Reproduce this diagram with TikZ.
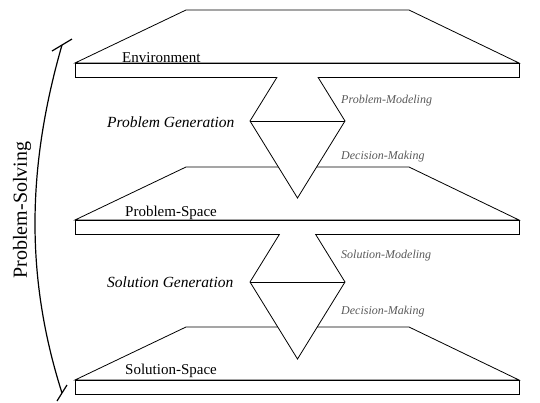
\documentclass[tikz,border=0pt]{standalone}
\usepackage{fontspec}
\setmainfont{Liberation Serif}
\usepackage{tikz}
\tikzset{>=latex}
\tikzset{
  platform/.style={draw,fill=white,line width=0.8pt},
  facet/.style={draw,fill=white,line width=0.8pt,line join=miter},
  spacetext/.style={anchor=base west,inner sep=0pt,font=\fontsize{15}{18}\selectfont},
  gentext/.style={anchor=base west,inner sep=0pt,font=\fontsize{15.5}{18}\selectfont\itshape},
  steptext/.style={anchor=base west,inner sep=0pt,text=black!65,font=\fontsize{12}{14}\selectfont\itshape}
}

\begin{document}
\begin{tikzpicture}[x=1pt,y=-1pt]
            \draw[draw=none,use as bounding box] (0,0) rectangle (540,402);
            % the three spaces: trapezoid on top of a flat slab
            \foreach \lvl/\y in {env/10,prob/167,sol/327}{
                \draw[platform] (75,\y+53) -- (186,\y) -- (409,\y) -- (519,\y+53) -- cycle;
                \draw[platform] (75,\y+53) rectangle (519,\y+67);
                \coordinate (\lvl) at (297.5,\y+67);
            }
            % the two generation diamonds, cut off under the slab above
            \foreach \lvl/\m in {env/121,prob/282}{
                \begin{scope}
                    \clip ([yshift=-0.4pt]\lvl) ++(-300,0) rectangle ++(600,300);
                    \draw[facet] (250,\m) -- (297.5,\m-77) -- (345,\m) -- (297.5,\m+77) -- cycle;
                    \draw[line width=0.8pt] (250,\m) -- (345,\m);
                \end{scope}
            }
            \node[spacetext] (envtext) at (122,62) {Environment};
            \node[spacetext] (probtext) at (125,216) {Problem-Space};
            \node[spacetext] (soltext) at (125,374) {Solution-Space};
            \node[gentext] (probgen) at (107,127) {Problem Generation};
            \node[gentext] (solgen) at (107,287) {Solution Generation};
            \node[steptext] (probmod) at (341,103) {Problem-Modeling};
            \node[steptext] (probdec) at (341,159) {Decision-Making};
            \node[steptext] (solmod) at (341,258) {Solution-Modeling};
            \node[steptext] (soldec) at (341,314) {Decision-Making};
            % the bracket over the whole process
            \coordinate (top) at (62,45);
            \coordinate (bot) at (62,393);
            \draw[line width=1.2pt] (top) .. controls (26,170) and (26,280) .. (bot);
            \draw[line width=1.2pt] (52,51) -- (72,39);
            \draw[line width=1.2pt] (57,401) -- (67,385);
            \node[rotate=90,font=\fontsize{20}{24}\selectfont] (solving) at (22,210) {Problem-Solving};
        \end{tikzpicture}
\end{document}
